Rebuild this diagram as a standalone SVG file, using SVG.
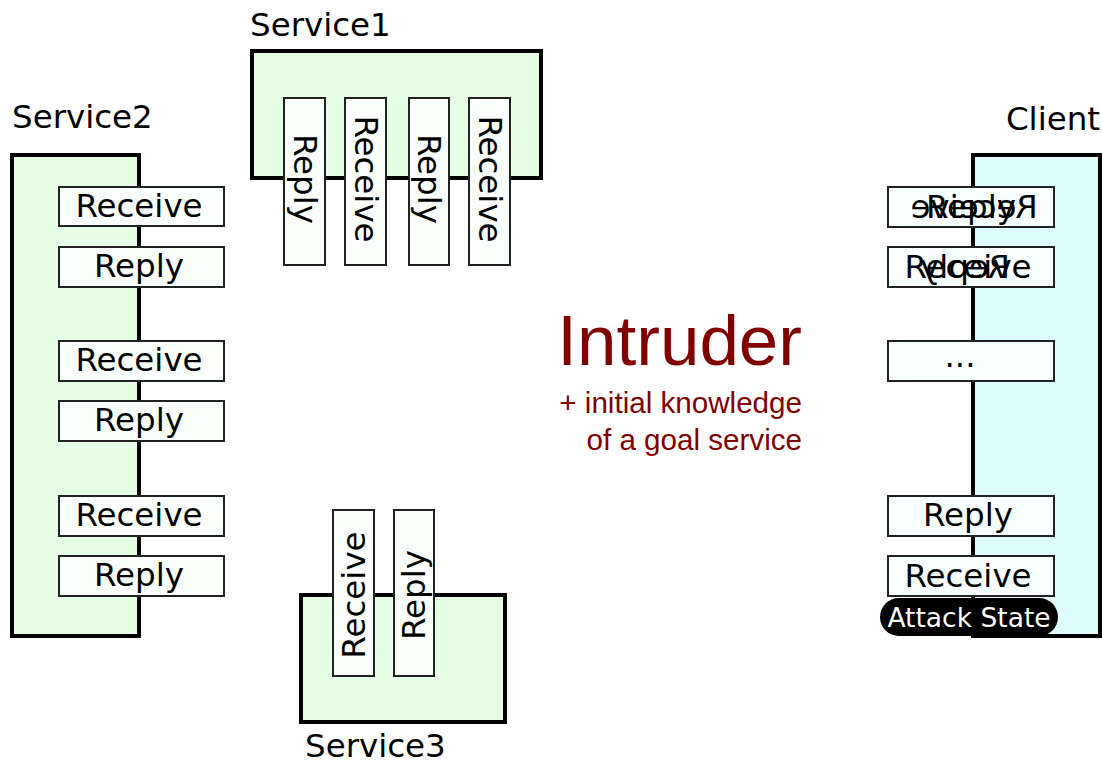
<svg xmlns="http://www.w3.org/2000/svg" width="1102" height="764" viewBox="0 0 1102 764">
<style>
.svc{fill:#e6fde6;stroke:#000;stroke-width:4}
.cli{fill:#e0fdfd;stroke:#000;stroke-width:4}
.box{fill:#fbfffb;stroke:#222;stroke-width:2}
.cbox{fill:#f8ffff;stroke:#222;stroke-width:2}
.t{font-family:"DejaVu Sans",sans-serif;font-size:32.5px;fill:#000;text-anchor:middle;dominant-baseline:central}
.title{font-family:"DejaVu Sans",sans-serif;font-size:32.5px;fill:#000}
.intr{font-family:"Liberation Sans",Arial,sans-serif;fill:#800000;text-anchor:end}
</style>
<rect width="1102" height="764" fill="#fff"/>
<g id="service1">
<text class="title" x="250" y="36">Service1</text>
<rect class="svc" x="252" y="51" width="289" height="127"/>
<rect class="box" x="284" y="98" width="41" height="167"/>
<rect class="box" x="345" y="98" width="41" height="167"/>
<rect class="box" x="409" y="98" width="40" height="167"/>
<rect class="box" x="469" y="98" width="41" height="167"/>
<text class="t" transform="translate(304.5,179) rotate(90)">Reply</text>
<text class="t" transform="translate(365.5,179) rotate(90)">Receive</text>
<text class="t" transform="translate(429,179) rotate(90)">Reply</text>
<text class="t" transform="translate(489.5,179) rotate(90)">Receive</text>
</g>
<g id="service2">
<text class="title" x="12" y="128">Service2</text>
<rect class="svc" x="12" y="155" width="127" height="481"/>
<rect class="box" x="59" y="187" width="165" height="39"/>
<rect class="box" x="59" y="247" width="165" height="40"/>
<rect class="box" x="59" y="341" width="165" height="40"/>
<rect class="box" x="59" y="401" width="165" height="40"/>
<rect class="box" x="59" y="496" width="165" height="40"/>
<rect class="box" x="59" y="556" width="165" height="40"/>
<text class="t" x="139" y="206">Receive</text>
<text class="t" x="139" y="266">Reply</text>
<text class="t" x="139" y="360">Receive</text>
<text class="t" x="139" y="420">Reply</text>
<text class="t" x="139" y="515">Receive</text>
<text class="t" x="139" y="575">Reply</text>
</g>
<g id="service3">
<rect class="svc" x="301" y="595" width="204" height="127"/>
<rect class="box" x="333" y="510" width="41" height="166"/>
<rect class="box" x="394" y="510" width="40" height="166"/>
<text class="t" transform="translate(353.5,595) rotate(-90)">Receive</text>
<text class="t" transform="translate(414,595) rotate(-90)">Reply</text>
<text class="title" x="305" y="757">Service3</text>
</g>
<g id="client">
<text class="title" x="1100" y="130" text-anchor="end">Client</text>
<rect class="cli" x="973" y="155" width="127" height="481"/>
<rect class="cbox" x="888" y="187" width="166" height="40"/>
<rect class="cbox" x="888" y="247" width="166" height="40"/>
<rect class="cbox" x="888" y="341" width="166" height="40"/>
<rect class="cbox" x="888" y="496" width="166" height="40"/>
<rect class="cbox" x="888" y="556" width="166" height="40"/>
<text class="t" x="971" y="207">Reply</text>
<text class="t" transform="translate(974,207) scale(-1,1)">Receive</text>
<text class="t" x="968" y="267">Receive</text>
<text class="t" transform="translate(965,267) scale(-1,1)">Reply</text>
<text class="t" x="960" y="356">...</text>
<text class="t" x="968" y="515">Reply</text>
<text class="t" x="968" y="576">Receive</text>
</g>
<g id="attack-state">
<rect x="880" y="598" width="178" height="38" rx="19" fill="#000"/>
<text x="969" y="617" font-family="DejaVu Sans,sans-serif" font-size="26.5" fill="#fff" text-anchor="middle" dominant-baseline="central">Attack State</text>
</g>
<g id="intruder">
<text class="intr" x="802" y="365" font-size="71">Intruder</text>
<text class="intr" x="802" y="413" font-size="29.6">+ initial knowledge</text>
<text class="intr" x="802" y="450" font-size="29.6">of a goal service</text>
</g>
<g id="connectors"/>
</svg>
